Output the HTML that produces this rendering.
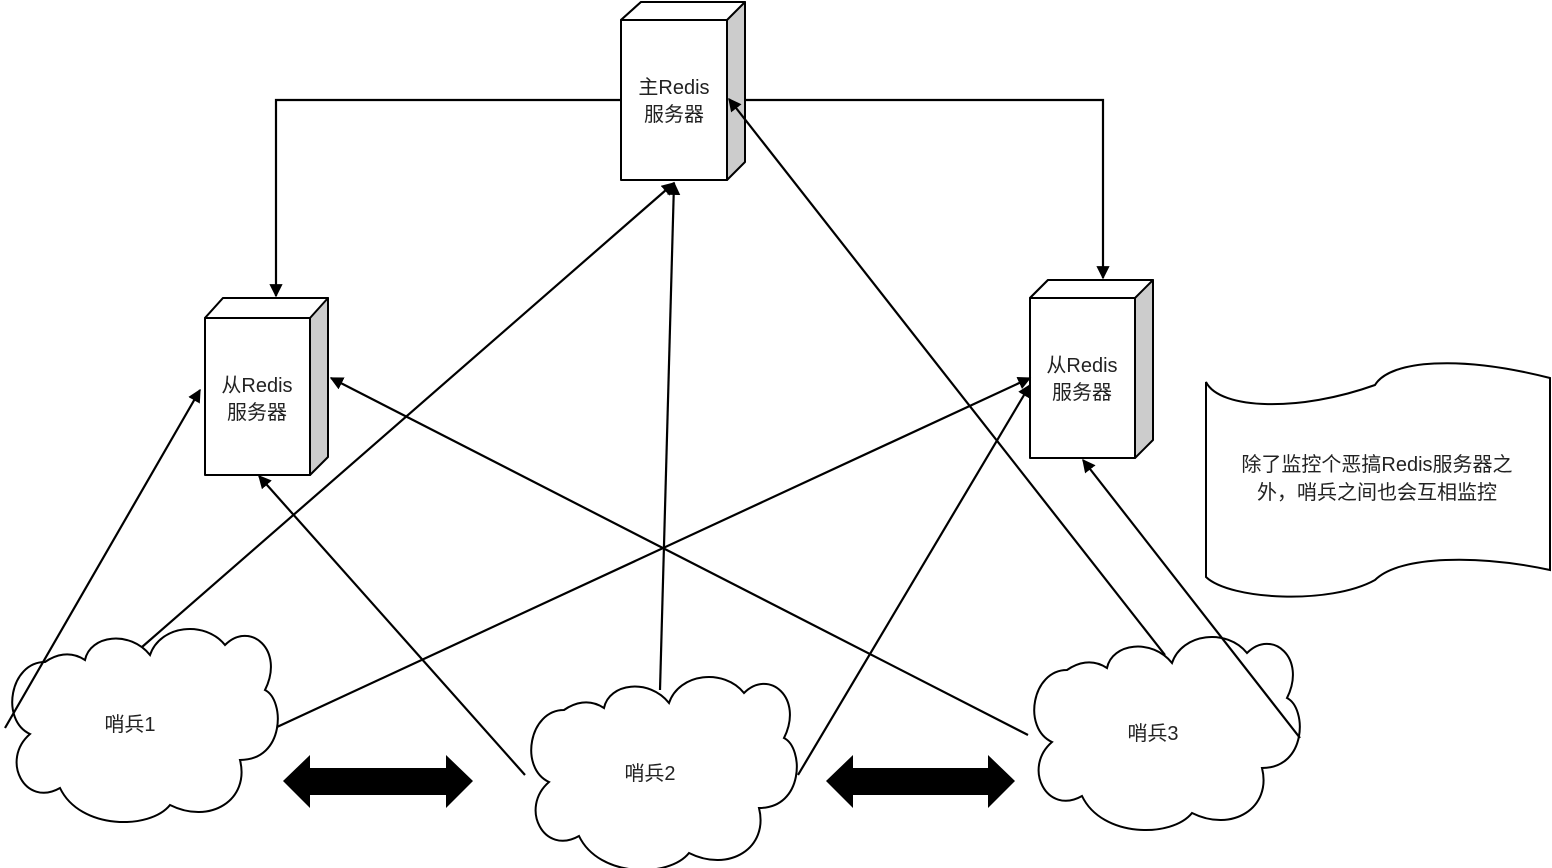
<!DOCTYPE html>
<html><head><meta charset="utf-8"><style>body{margin:0;background:#fff}svg{display:block}text{font-family:"Liberation Sans","Noto Sans CJK SC",sans-serif;font-size:20px;fill:#222}</style></head>
<body>
<svg width="1552" height="868" viewBox="0 0 1552 868" xmlns="http://www.w3.org/2000/svg">
<defs><marker id="a" viewBox="0 0 10 10" refX="9" refY="5" markerWidth="6" markerHeight="6" orient="auto"><path d="M0,0 L10,5 L0,10 z" fill="#000"/></marker></defs>
<g stroke="#000" stroke-width="2" stroke-linejoin="round">
<path d="M621,20 L641,2 L745,2 L745,162 L727,180 L727,20 Z" fill="#ccc"/><path d="M621,20 L641,2 L745,2 L727,20 Z" fill="#fff"/><rect x="621" y="20" width="106" height="160" fill="#fff"/>
<path d="M205,318 L223,298 L328,298 L328,457 L310,475 L310,318 Z" fill="#ccc"/><path d="M205,318 L223,298 L328,298 L310,318 Z" fill="#fff"/><rect x="205" y="318" width="105" height="157" fill="#fff"/>
<path d="M1030,298 L1048,280 L1153,280 L1153,440 L1135,458 L1135,298 Z" fill="#ccc"/><path d="M1030,298 L1048,280 L1153,280 L1135,298 Z" fill="#fff"/><rect x="1030" y="298" width="105" height="160" fill="#fff"/>
</g>
<g fill="none" stroke="#000" stroke-width="2.2" marker-end="url(#a)">
<polyline points="621,100 276,100 276,296"/>
<polyline points="745,100 1103,100 1103,278"/>
<line x1="5" y1="728" x2="200" y2="390"/>
<line x1="142" y1="647" x2="674" y2="183"/>
<line x1="277" y1="727" x2="1030" y2="378"/>
<line x1="525" y1="775" x2="259" y2="476"/>
<line x1="660" y1="690" x2="674" y2="183"/>
<line x1="798" y1="775" x2="1030" y2="385"/>
<line x1="1165" y1="655" x2="729" y2="99"/>
<line x1="1028" y1="735" x2="331" y2="378"/>
<line x1="1300" y1="738" x2="1083" y2="460"/>
</g>
<text x="674" y="94" text-anchor="middle">主Redis</text><text x="674" y="121" text-anchor="middle">服务器</text>
<text x="257" y="392" text-anchor="middle">从Redis</text><text x="257" y="419" text-anchor="middle">服务器</text>
<text x="1082" y="372" text-anchor="middle">从Redis</text><text x="1082" y="399" text-anchor="middle">服务器</text>
<path d="M1206,382 C1220,410 1300,412 1375,385 C1390,360 1460,355 1550,378 L1550,570 C1480,555 1400,555 1375,580 C1330,605 1230,600 1206,577 Z" fill="#fff" stroke="#000" stroke-width="2"/>
<text x="1377" y="471" text-anchor="middle">除了监控个恶搞Redis服务器之</text>
<text x="1377" y="499" text-anchor="middle">外，哨兵之间也会互相监控</text>
<g fill="none" stroke="#000" stroke-width="2">
<path id="c1" d="M45,662 C10,662 0,720 30,734 C0,760 25,808 60,788 C80,830 150,830 170,805 C210,825 250,800 240,760 C285,760 285,700 265,690 C285,650 250,620 225,645 C205,620 160,625 150,655 C130,630 90,635 85,660 C70,650 55,655 45,662 Z"/>
<use href="#c1" transform="translate(519,48)"/>
<use href="#c1" transform="translate(1022,8)"/>
</g>
<text x="130" y="731" text-anchor="middle">哨兵1</text>
<text x="650" y="780" text-anchor="middle">哨兵2</text>
<text x="1153" y="740" text-anchor="middle">哨兵3</text>
<path d="M283,781 L310,755 L310,768 L446,768 L446,755 L473,781 L446,808 L446,795 L310,795 L310,808 Z" fill="#000"/>
<path d="M826,781 L853,755 L853,768 L988,768 L988,755 L1015,781 L988,808 L988,795 L853,795 L853,808 Z" fill="#000"/>
</svg>
</body></html>
